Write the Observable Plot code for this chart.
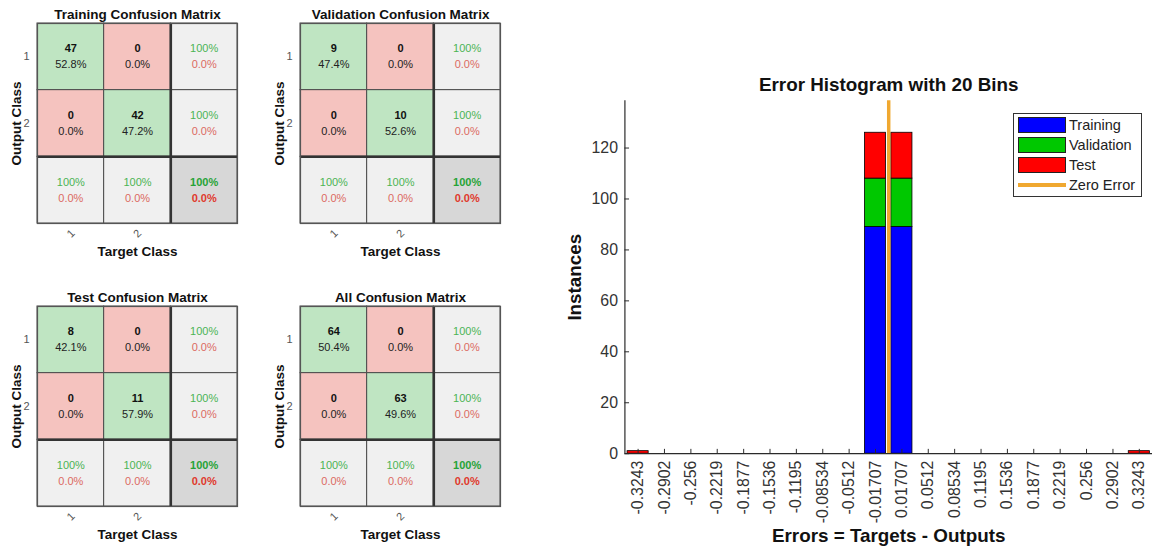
<!DOCTYPE html>
<html><head><meta charset="utf-8">
<script src="https://cdn.jsdelivr.net/npm/d3@7"></script>
<script src="https://cdn.jsdelivr.net/npm/@observablehq/plot@0.6"></script>
<style>
body{margin:0;background:#fff;font-family:"Liberation Sans",Arial,sans-serif;}
#root{position:relative;width:1152px;height:551px;overflow:hidden;background:#fff}
.panel{position:absolute}
#legend{position:absolute;left:1013px;top:113px;width:129px;height:84px;border:1px solid #333;background:#fff;font-size:14.5px;color:#222;box-sizing:border-box}
.lrow{position:absolute;left:4px;height:16px;display:flex;align-items:center;white-space:nowrap}
.sw{width:48px;height:16px;border:1px solid #222;margin-right:3px;box-sizing:border-box}
.ln{width:48px;height:4px;margin-right:3px}
</style></head>
<body><div id="root"></div>
<script>
// ---------- Confusion matrix data ----------
const classLabels = ["1", "2"];
const matrixTitles = ["Training Confusion Matrix", "Validation Confusion Matrix", "Test Confusion Matrix", "All Confusion Matrix"];
const trainingCounts = [47, 0, 0, 42];
const trainingPercents = ["52.8%", "0.0%", "0.0%", "47.2%"];
const validationCounts = [9, 0, 0, 10];
const validationPercents = ["47.4%", "0.0%", "0.0%", "52.6%"];
const testCounts = [8, 0, 0, 11];
const testPercents = ["42.1%", "0.0%", "0.0%", "57.9%"];
const allCounts = [64, 0, 0, 63];
const allPercents = ["50.4%", "0.0%", "0.0%", "49.6%"];
// summary cells order: row1, row2, col1, col2, overall
const summaryCorrect = ["100%", "100%", "100%", "100%", "100%"];
const summaryError = ["0.0%", "0.0%", "0.0%", "0.0%", "0.0%"];

// ---------- Error histogram data ----------
const binCenters = [-0.3243, -0.2902, -0.256, -0.2219, -0.1877, -0.1536, -0.1195, -0.08534, -0.0512, -0.01707,
  0.01707, 0.0512, 0.08534, 0.1195, 0.1536, 0.1877, 0.2219, 0.256, 0.2902, 0.3243];
const binTickLabels = ["-0.3243", "-0.2902", "-0.256", "-0.2219", "-0.1877", "-0.1536", "-0.1195", "-0.08534", "-0.0512", "-0.01707",
  "0.01707", "0.0512", "0.08534", "0.1195", "0.1536", "0.1877", "0.2219", "0.256", "0.2902", "0.3243"];
const histTraining =   [0,0,0,0,0,0,0,0,0,89,89,0,0,0,0,0,0,0,0,0];
const histValidation = [0,0,0,0,0,0,0,0,0,19,19,0,0,0,0,0,0,0,0,0];
const histTest =       [1,0,0,0,0,0,0,0,0,18,18,0,0,0,0,0,0,0,0,1];
const seriesNames = ["Training", "Validation", "Test"];
const seriesColors = ["#0000ff", "#00c800", "#ff0000"];
const zeroErrorColor = "#f0a830";
const yTicks = [0, 20, 40, 60, 80, 100, 120];
const yMax = 138.6;

const FONT = "'Liberation Sans', Arial, sans-serif";
const root = document.getElementById("root");

function place(node, left, top) {
  const d = document.createElement("div");
  d.className = "panel"; d.style.left = left + "px"; d.style.top = top + "px";
  d.appendChild(node); root.appendChild(d);
}

function matrix(title, counts, pcts) {
  const cells = [];
  for (let r = 0; r < 3; r++) for (let c = 0; c < 3; c++) {
    let kind, top, bottom;
    if (r < 2 && c < 2) { kind = r === c ? "good" : "bad"; top = String(counts[r * 2 + c]); bottom = pcts[r * 2 + c]; }
    else { kind = (r === 2 && c === 2) ? "overall" : "summary"; const k = r < 2 ? r : (c < 2 ? 2 + c : 4); top = summaryCorrect[k]; bottom = summaryError[k]; }
    cells.push({r, c, kind, top, bottom});
  }
  const fills = {good: "#bfe5c2", bad: "#f5c3bf", summary: "#f0f0f0", overall: "#d7d7d7"};
  const inner = cells.filter(d => d.kind === "good" || d.kind === "bad");
  const summ = cells.filter(d => d.kind === "summary");
  const over = cells.filter(d => d.kind === "overall");
  const cx = d => d.c + 0.5, cy = d => d.r + 0.5;
  const T = {lineAnchor: "middle"};
  return Plot.plot({
    width: 270, height: 270, marginLeft: 37, marginRight: 33, marginTop: 23, marginBottom: 47,
    style: {fontFamily: FONT, background: "transparent"},
    x: {domain: [0, 3], axis: null}, y: {domain: [0, 3], reverse: true, axis: null},
    color: {type: "identity"},
    marks: [
      Plot.rect(cells, {x1: d => d.c, x2: d => d.c + 1, y1: d => d.r, y2: d => d.r + 1, fill: d => fills[d.kind], stroke: "#4a4a4a", strokeWidth: 1}),
      Plot.ruleX([2], {stroke: "#333", strokeWidth: 2.5}),
      Plot.ruleY([2], {stroke: "#333", strokeWidth: 2.5}),
      Plot.frame({stroke: "#555", strokeWidth: 1.2}),
      Plot.text(inner, {...T, x: cx, y: cy, text: "top", dy: -8, fontSize: 11, fontWeight: "bold", fill: "#111"}),
      Plot.text(inner, {...T, x: cx, y: cy, text: "bottom", dy: 8, fontSize: 11, fill: "#222"}),
      Plot.text(summ, {...T, x: cx, y: cy, text: "top", dy: -8, fontSize: 11, fill: "#4cb454"}),
      Plot.text(summ, {...T, x: cx, y: cy, text: "bottom", dy: 8, fontSize: 11, fill: "#dc6a62"}),
      Plot.text(over, {...T, x: cx, y: cy, text: "top", dy: -8, fontSize: 11, fontWeight: "bold", fill: "#26a336"}),
      Plot.text(over, {...T, x: cx, y: cy, text: "bottom", dy: 8, fontSize: 11, fontWeight: "bold", fill: "#e0392c"}),
      Plot.text(classLabels, {...T, y: (d, i) => i + 0.5, frameAnchor: "left", dx: -8, textAnchor: "end", text: d => d, fontSize: 11, fill: "#555"}),
      Plot.text(classLabels, {...T, x: (d, i) => i + 0.5, frameAnchor: "bottom", dy: 10, rotate: -45, textAnchor: "middle", text: d => d, fontSize: 11, fill: "#555"}),
      Plot.text([title], {...T, frameAnchor: "top", dy: -9, textAnchor: "middle", text: d => d, fontSize: 13.5, fontWeight: "bold", fill: "#111"}),
      Plot.text(["Output Class"], {...T, frameAnchor: "left", dx: -21, rotate: -90, textAnchor: "middle", text: d => d, fontSize: 13.5, fontWeight: "bold", fill: "#111"}),
      Plot.text(["Target Class"], {...T, frameAnchor: "bottom", dy: 28, textAnchor: "middle", text: d => d, fontSize: 13.5, fontWeight: "bold", fill: "#111"})
    ]
  });
}

place(matrix(matrixTitles[0], trainingCounts, trainingPercents), 0, 0);
place(matrix(matrixTitles[1], validationCounts, validationPercents), 263, 0);
place(matrix(matrixTitles[2], testCounts, testPercents), 0, 283);
place(matrix(matrixTitles[3], allCounts, allPercents), 263, 283);

// ---------- Histogram ----------
const binWidth = (binCenters[19] - binCenters[0]) / 19;
const xmin = binCenters[0] - binWidth / 2, xmax = binCenters[19] + binWidth / 2;
const seriesData = [histTraining, histValidation, histTest];
const rows = [];
binCenters.forEach((c, i) => {
  seriesData.forEach((arr, s) => {
    if (arr[i] > 0) rows.push({x1: c - 0.4 * binWidth, x2: c + 0.4 * binWidth, count: arr[i], set: seriesNames[s]});
  });
});
const axisColor = "#2a2a2a";
const H = {lineAnchor: "middle", textAnchor: "middle"};
const hist = Plot.plot({
  width: 602, height: 551, marginLeft: 70, marginRight: 0, marginTop: 101, marginBottom: 94,
  style: {fontFamily: FONT, background: "transparent", overflow: "visible"},
  x: {domain: [xmin, xmax]}, y: {domain: [0, yMax]},
  color: {domain: seriesNames, range: seriesColors},
  marks: [
    Plot.rectY(rows, {x1: "x1", x2: "x2", y: "count", fill: "set", stroke: "#000", strokeWidth: 0.8}),
    Plot.ruleX([0], {y1: 0, y2: yMax, stroke: zeroErrorColor, strokeWidth: 3.5}),
    Plot.ruleY([0], {stroke: axisColor, strokeWidth: 1.2}),
    Plot.ruleX([xmin], {y1: 0, y2: yMax, stroke: axisColor, strokeWidth: 1.2}),
    Plot.ruleY(yTicks, {x1: xmin, x2: xmin + 0.006, stroke: axisColor}),
    Plot.ruleX(binCenters, {y1: 0, y2: 1.7, stroke: axisColor}),
    Plot.axisY({ticks: yTicks, tickSize: 0, tickPadding: 7, fontSize: 16, color: "#333", label: null}),
    Plot.axisX({ticks: binCenters, tickFormat: (d) => binTickLabels[binCenters.indexOf(d)], tickRotate: -90, tickSize: 0, tickPadding: 7, fontSize: 16, color: "#333", label: null}),
    Plot.text(["Error Histogram with 20 Bins"], {...H, frameAnchor: "top", dy: -16, text: d => d, fontSize: 19, fontWeight: "bold", fill: "#111"}),
    Plot.text(["Instances"], {...H, frameAnchor: "left", dx: -50, rotate: -90, text: d => d, fontSize: 19, fontWeight: "bold", fill: "#111"}),
    Plot.text(["Errors = Targets - Outputs"], {...H, frameAnchor: "bottom", dy: 83, text: d => d, fontSize: 19, fontWeight: "bold", fill: "#111"})
  ]
});
place(hist, 555, 0);

// legend
const leg = document.createElement("div");
leg.id = "legend";
const legendItems = [...seriesNames.map((n, i) => ({name: n, color: seriesColors[i], line: false})), {name: "Zero Error", color: zeroErrorColor, line: true}];
legendItems.forEach((it, i) => {
  const row = document.createElement("div");
  row.className = "lrow"; row.style.top = (3 + i * 20) + "px";
  const sw = document.createElement("div");
  sw.className = it.line ? "ln" : "sw"; sw.style.background = it.color;
  const tx = document.createElement("span"); tx.textContent = it.name;
  row.appendChild(sw); row.appendChild(tx); leg.appendChild(row);
});
root.appendChild(leg);
</script></body></html>
